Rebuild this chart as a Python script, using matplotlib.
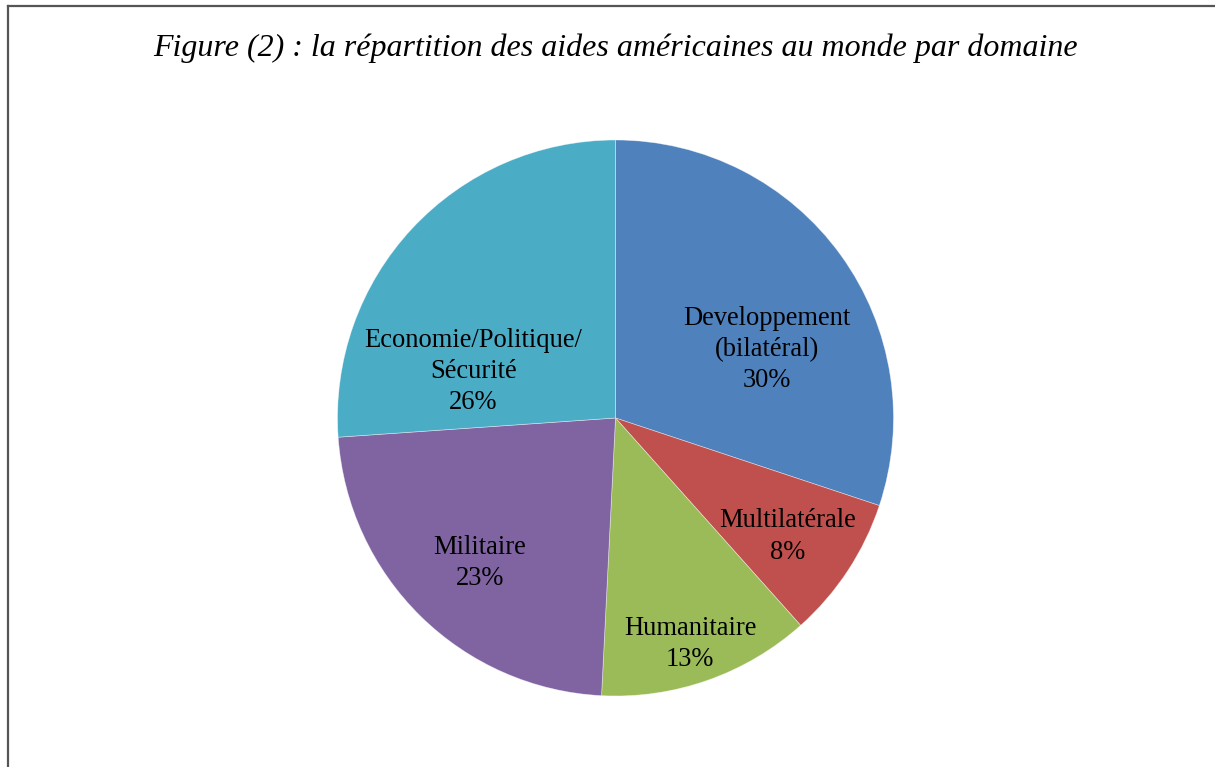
import matplotlib
matplotlib.use("Agg")
import matplotlib.pyplot as plt
from matplotlib.lines import Line2D
import numpy as np

title = "Figure (2) : la répartition des aides américaines au monde par domaine"
categories = ["Developpement\n(bilatéral)", "Multilatérale", "Humanitaire", "Militaire",
              "Economie/Politique/\nSécurité"]
# slice shares
values = [30.1, 8.3, 12.4, 23.1, 26.1]
# percentages as printed on the chart
pct_labels = ["30%", "8%", "13%", "23%", "26%"]
colors = ["#4F81BD", "#C0504D", "#9BBB59", "#8064A2", "#4BACC6"]
# label placement (fraction of radius, angle in degrees) as in the reference
label_pos = [(0.598, 24.3), (0.753, -34.5), (0.857, -71.8), (0.714, -133.1), (0.539, 161.9)]

plt.rcParams['font.family'] = ['Liberation Serif', 'DejaVu Serif']

fig = plt.figure(figsize=(12.15, 7.67), dpi=100)
W, H = 1215, 767
cx, cy, r = 615.5, 418, 278
ax = fig.add_axes([(cx - r) / W, (H - cy - r) / H, 2 * r / W, 2 * r / H])
wedges, _ = ax.pie(values, colors=colors, startangle=90, counterclock=False,
                   wedgeprops=dict(linewidth=0.5, edgecolor=(1, 1, 1, 0.5)))
ax.set_aspect('equal')
ax.set_xlim(-1, 1)
ax.set_ylim(-1, 1)

for cat, p, (d, a) in zip(categories, pct_labels, label_pos):
    x = d * np.cos(np.radians(a))
    y = d * np.sin(np.radians(a))
    ax.text(x, y, f"{cat}\n{p}", ha='center', va='center', fontsize=19.1,
            linespacing=1.33, color='black')

fig.text(cx / W, 1 - 48.5 / H, title, ha='center', va='center', fontsize=23,
         style='italic')

# frame lines (top and left)
fig.add_artist(Line2D([7.5 / W, 1.0], [1 - 5.5 / H, 1 - 5.5 / H], color='#555555', lw=1.6,
                      transform=fig.transFigure))
fig.add_artist(Line2D([7.5 / W, 7.5 / W], [0, 1 - 5.5 / H], color='#555555', lw=1.6,
                      transform=fig.transFigure))

fig.savefig("out.png", dpi=100)
